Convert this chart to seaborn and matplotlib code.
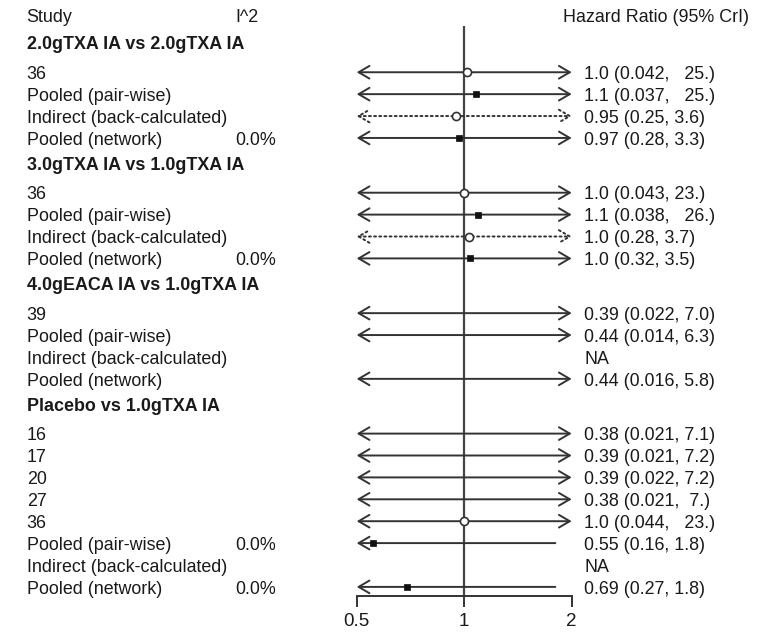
import matplotlib
matplotlib.use("Agg")
import matplotlib.pyplot as plt
import seaborn as sns
import pandas as pd
import numpy as np
from matplotlib import transforms

# ---------------- data ----------------
groups = ["2.0gTXA IA vs 2.0gTXA IA", "3.0gTXA IA vs 1.0gTXA IA",
          "4.0gEACA IA vs 1.0gTXA IA", "Placebo vs 1.0gTXA IA"]
row_group = [0, 0, 0, 0, 1, 1, 1, 1, 2, 2, 2, 2, 3, 3, 3, 3, 3, 3, 3, 3]
row_labels = ["36", "Pooled (pair-wise)", "Indirect (back-calculated)", "Pooled (network)",
              "36", "Pooled (pair-wise)", "Indirect (back-calculated)", "Pooled (network)",
              "39", "Pooled (pair-wise)", "Indirect (back-calculated)", "Pooled (network)",
              "16", "17", "20", "27", "36", "Pooled (pair-wise)", "Indirect (back-calculated)",
              "Pooled (network)"]
row_kind = ["study", "pooled", "indirect", "pooled",
            "study", "pooled", "indirect", "pooled",
            "study", "pooled", "indirect", "pooled",
            "study", "study", "study", "study", "study", "pooled", "indirect", "pooled"]
i2_text = ["", "", "", "0.0%",
           "", "", "", "0.0%",
           "", "", "", "",
           "", "", "", "", "", "0.0%", "", "0.0%"]
est = [1.02, 1.08, 0.95, 0.97,
       1.00, 1.095, 1.03, 1.04,
       0.39, 0.44, np.nan, 0.44,
       0.38, 0.39, 0.39, 0.38, 1.00, 0.555, np.nan, 0.69]
lo = [0.042, 0.037, 0.25, 0.28,
      0.043, 0.038, 0.28, 0.32,
      0.022, 0.014, np.nan, 0.016,
      0.021, 0.021, 0.022, 0.021, 0.044, 0.16, np.nan, 0.27]
hi = [25, 25, 3.6, 3.3,
      23, 26, 3.7, 3.5,
      7.0, 6.3, np.nan, 5.8,
      7.1, 7.2, 7.2, 7.0, 23, 1.8, np.nan, 1.8]
ci_text = ["1.0 (0.042,   25.)", "1.1 (0.037,   25.)", "0.95 (0.25, 3.6)", "0.97 (0.28, 3.3)",
           "1.0 (0.043, 23.)", "1.1 (0.038,   26.)", "1.0 (0.28, 3.7)", "1.0 (0.32, 3.5)",
           "0.39 (0.022, 7.0)", "0.44 (0.014, 6.3)", "NA", "0.44 (0.016, 5.8)",
           "0.38 (0.021, 7.1)", "0.39 (0.021, 7.2)", "0.39 (0.022, 7.2)", "0.38 (0.021,  7.)",
           "1.0 (0.044,   23.)", "0.55 (0.16, 1.8)", "NA", "0.69 (0.27, 1.8)"]
x_ticks = [0.5, 1, 2]
x_tick_labels = ["0.5", "1", "2"]

# ---------------- style ----------------
sns.set_theme(style="white")
plt.rcParams['font.family'] = ['Liberation Sans', 'DejaVu Sans']
FS = 12.9
TXT = "#1a1a1a"
LN = "#333333"

W, H = 765, 633
UNIT = 21.9          # px per row
TOP_PX = 17.5        # px of header row
AXIS_PX = 596        # px of axis line

# ---------------- layout (row positions) ----------------
y = 0.0
group_y = []
row_y = []
cur = -1
for g in row_group:
    if g != cur:
        y += 1.25
        group_y.append(y)
        y += 1.25
        cur = g
    else:
        y += 1.0
    row_y.append(y)

df = pd.DataFrame(dict(label=row_labels, kind=row_kind, i2=i2_text, est=est, lo=lo,
                       hi=hi, ci=ci_text, y=row_y))

fig = plt.figure(figsize=(W / 100, H / 100), dpi=100)
x0, x1 = 356.7, 571.7
ax = fig.add_axes([x0 / W, (H - AXIS_PX) / H, (x1 - x0) / W, AXIS_PX / H])
ax.set_xscale('log', base=2)
xmin, xmax = x_ticks[0], x_ticks[-1]
ax.set_xlim(xmin, xmax)
ymax = row_y[-1] + (AXIS_PX - (TOP_PX + row_y[-1] * UNIT)) / UNIT
ax.set_ylim(ymax, -TOP_PX / UNIT)
ax.patch.set_alpha(0)

# reference line at 1
ax.vlines(1, (26 - TOP_PX) / UNIT, ymax, color="#444444", lw=1.6, zorder=1)

# CI lines with arrows
for _, r in df.iterrows():
    if np.isnan(r.lo):
        continue
    a = max(r.lo, xmin)
    b = min(r.hi, xmax)
    left = r.lo < xmin
    right = r.hi > xmax
    if left and right:
        style = "<->"
    elif left:
        style = "<-"
    elif right:
        style = "->"
    else:
        style = "-"
    ls = ":" if r.kind == "indirect" else "-"
    ax.annotate("", xy=(b, r.y), xytext=(a, r.y), xycoords="data",
                arrowprops=dict(arrowstyle=style + (",head_length=0.65,head_width=0.38" if style != "-" else ""),
                                color=LN, lw=1.4, linestyle=ls, shrinkA=0, shrinkB=0),
                annotation_clip=False, zorder=2)

# point estimates
open_pts = df[df.kind.isin(["study", "indirect"])].dropna(subset=["est"])
sq_pts = df[df.kind == "pooled"].dropna(subset=["est"])
sns.scatterplot(data=open_pts, x="est", y="y", marker="o", s=34, facecolor="white",
                edgecolor=LN, linewidth=1.2, ax=ax, zorder=3, legend=False)
sns.scatterplot(data=sq_pts, x="est", y="y", marker="s", s=22, color="#111111",
                edgecolor="#111111", linewidth=0.5, ax=ax, zorder=3, legend=False)

# axis
for s in ["top", "left", "right"]:
    ax.spines[s].set_visible(False)
ax.spines["bottom"].set_bounds(xmin, xmax)
ax.spines["bottom"].set_color(LN)
ax.spines["bottom"].set_linewidth(1.4)
ax.set_xticks(x_ticks)
ax.set_xticklabels(x_tick_labels)
ax.xaxis.set_minor_locator(matplotlib.ticker.NullLocator())
ax.tick_params(axis="x", direction="out", length=8, width=1.4, color=LN, pad=4,
               labelsize=13.5, labelcolor=TXT, bottom=True)
ax.set_yticks([])
ax.set_xlabel("")
ax.set_ylabel("")

# text columns
tr = transforms.blended_transform_factory(fig.transFigure, ax.transData)
TY = 0.1  # text offset relative to line
col_label, col_i2, col_ci, col_hdr = 26.7 / W, 235 / W, 584 / W, 563 / W
ax.text(col_label, 0, "Study", transform=tr, fontsize=FS, color=TXT, va="center", clip_on=False)
ax.text(col_i2, 0, "I^2", transform=tr, fontsize=FS, color=TXT, va="center", clip_on=False)
ax.text(col_hdr, 0, "Hazard Ratio (95% CrI)", transform=tr, fontsize=FS, color=TXT,
        va="center", clip_on=False)
for g, gy in zip(groups, group_y):
    ax.text(col_label, gy, g, transform=tr, fontsize=FS, fontweight="bold", color=TXT,
            va="center", clip_on=False)
for _, r in df.iterrows():
    ax.text(col_label, r.y + TY, r.label, transform=tr, fontsize=FS, color=TXT, va="center", clip_on=False)
    if r.i2:
        ax.text(col_i2, r.y + TY, r.i2, transform=tr, fontsize=FS, color=TXT, va="center", clip_on=False)
    ax.text(col_ci, r.y + TY, r.ci, transform=tr, fontsize=FS, color=TXT, va="center", clip_on=False)

fig.savefig("out.png", dpi=100, facecolor="white")
